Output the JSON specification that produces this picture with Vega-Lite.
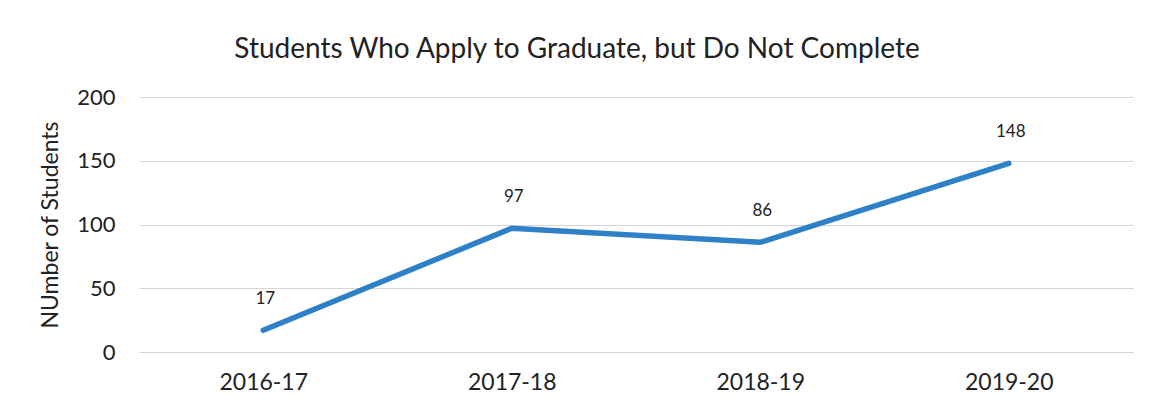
{
  "$schema": "https://vega.github.io/schema/vega-lite/v6.json",
  "autosize": "none",
  "width": 994,
  "height": 255,
  "padding": {"left": 139, "top": 97, "right": 21, "bottom": 62},
  "background": "white",
  "title": {
    "text": "Students Who Apply to Graduate, but Do Not Complete",
    "font": "Lato",
    "fontSize": 28,
    "fontWeight": "normal",
    "color": "#222222",
    "anchor": "middle",
    "dx": -59,
    "offset": 22
  },
  "config": {
    "view": {"stroke": null},
    "font": "Lato"
  },
  "data": {
    "values": [
      {"year": "2016-17", "students": 17},
      {"year": "2017-18", "students": 97},
      {"year": "2018-19", "students": 86},
      {"year": "2019-20", "students": 148}
    ]
  },
  "encoding": {
    "x": {
      "field": "year",
      "type": "ordinal",
      "scale": {"type": "point", "padding": 0.5},
      "axis": {
        "title": null,
        "labelAngle": 0,
        "labelFont": "Lato",
        "labelFontSize": 23,
        "labelColor": "#222222",
        "labelPadding": 19,
        "ticks": false,
        "domain": false,
        "grid": false
      }
    },
    "y": {
      "field": "students",
      "type": "quantitative",
      "scale": {"domain": [0, 200], "nice": false},
      "axis": {
        "title": "NUmber of Students",
        "titleFont": "Lato",
        "titleFontSize": 23,
        "titleFontWeight": "normal",
        "titleColor": "#222222",
        "titlePadding": 14,
        "values": [0, 50, 100, 150, 200],
        "labelFont": "Lato",
        "labelFontSize": 22,
        "labelColor": "#222222",
        "labelPadding": 24,
        "ticks": false,
        "domain": false,
        "grid": true,
        "gridColor": "#d6d6d6",
        "gridWidth": 1.2
      }
    }
  },
  "layer": [
    {
      "mark": {"type": "line", "color": "#2f81c7", "strokeWidth": 5.5, "strokeCap": "round"}
    },
    {
      "mark": {"type": "text", "dy": -31, "dx": 2, "font": "Lato", "fontSize": 17, "color": "#222222"},
      "encoding": {"text": {"field": "students", "type": "quantitative"}}
    }
  ]
}
